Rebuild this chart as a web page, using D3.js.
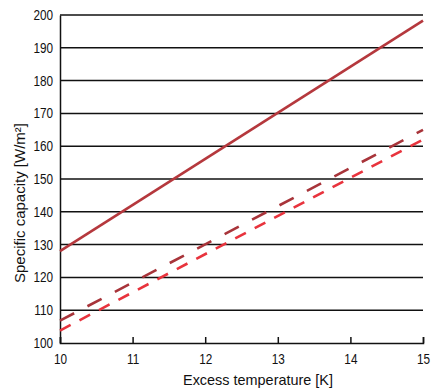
<!DOCTYPE html>
<html><head><meta charset="utf-8">
<script src="https://cdn.jsdelivr.net/npm/d3@7"></script>
<style>body{margin:0;background:#fff}svg text{font-family:"Liberation Sans","Arial",sans-serif;fill:#111}</style>
</head><body><svg id="c" width="436" height="392"></svg>
<script>
const xTicks = [10, 11, 12, 13, 14, 15];
const yTicks = [100, 110, 120, 130, 140, 150, 160, 170, 180, 190, 200];
const solidX = [10, 15];
const solidY = [128, 198.3];
const darkDashedX = [10, 15];
const darkDashedY = [106.8, 165];
const lightDashedX = [10, 15];
const lightDashedY = [103.8, 162];
const xLabel = "Excess temperature [K]";
const yLabel = "Specific capacity [W/m²]";

const svg = d3.select("#c");
const W = 436, H = 392;
const x = d3.scaleLinear().domain([10, 15]).range([60, 423]);
const y = d3.scaleLinear().domain([100, 200]).range([343, 15]);

function squeeze(sel, f) {
  sel.each(function() {
    const w = this.getComputedTextLength();
    d3.select(this).attr("textLength", w * f).attr("lengthAdjust", "spacingAndGlyphs");
  });
}

// gridlines
svg.append("g").selectAll("line").data(yTicks.filter(v => v > 100)).join("line")
  .attr("x1", x(10)).attr("x2", x(15)).attr("y1", d => y(d)).attr("y2", d => y(d))
  .attr("stroke", "#111").attr("stroke-width", 1.5);

// x axis
const xa = svg.append("g").attr("transform", `translate(0,${y(100)})`)
  .call(d3.axisBottom(x).tickValues(xTicks).tickSize(-6).tickPadding(11).tickFormat(d3.format("d")));
xa.select(".domain").attr("stroke", "#111").attr("stroke-width", 1.5);
xa.selectAll(".tick line").attr("stroke", "#111").attr("stroke-width", 1.5);
xa.selectAll("text").attr("font-size", 14).attr("font-family", null).call(squeeze, 0.84);

// y axis
const ya = svg.append("g").attr("transform", `translate(${x(10)},0)`)
  .call(d3.axisLeft(y).tickValues(yTicks).tickSize(0).tickPadding(7).tickFormat(d3.format("d")));
ya.select(".domain").attr("stroke", "#111").attr("stroke-width", 1.5);
ya.selectAll("text").attr("font-size", 14).attr("font-family", null).call(squeeze, 0.84);

// titles
svg.append("text").attr("x", 183).attr("y", 385)
  .attr("font-size", 15).text(xLabel)
  .attr("textLength", 150).attr("lengthAdjust", "spacingAndGlyphs");
svg.append("text").attr("transform", `translate(25,283) rotate(-90)`)
  .attr("font-size", 15).text(yLabel)
  .attr("textLength", 160).attr("lengthAdjust", "spacingAndGlyphs");

// lines
const line = d3.line().x(d => x(d[0])).y(d => y(d[1]));
const data = [
  {pts: d3.zip(solidX, solidY), color: "#b5383d", dash: null},
  {pts: d3.zip(darkDashedX, darkDashedY), color: "#a8343a", dash: "16,15"},
  {pts: d3.zip(lightDashedX, lightDashedY), color: "#e8333d", dash: "12,10"}
];
svg.append("g").selectAll("path").data(data).join("path")
  .attr("d", d => line(d.pts)).attr("fill", "none")
  .attr("stroke", d => d.color).attr("stroke-width", 2.6)
  .attr("stroke-dasharray", d => d.dash);
</script></body></html>
